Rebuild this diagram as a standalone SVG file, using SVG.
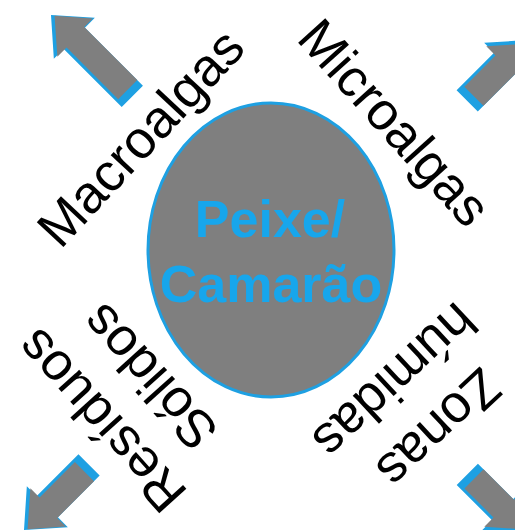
<svg xmlns="http://www.w3.org/2000/svg" width="515" height="530" viewBox="0 0 515 530">
  <style>
    .edge { fill: #1ea0e2; }
    .face { fill: #7f7f7f; }
    .lbl { font-family: "Liberation Sans", Arial, sans-serif; font-size: 53px; fill: #000; text-anchor: middle; }
    .core { font-family: "Liberation Sans", Arial, sans-serif; font-size: 52px; font-weight: bold; fill: #17a6ec; text-anchor: middle; }
  </style>

  <rect width="515" height="530" fill="#fff"/>

  <!-- outward block arrows, blue edge underneath a grey face -->
  <g id="connectors">
    <g id="arrow-nw" transform="translate(51,15) rotate(-45)">
      <polygon class="edge" points="0,0 29,33 15,33 15,115 -15,115 -15,33 -29,33"/>
      <polygon class="face" points="2,3 27,32 15,32 15,107 -12,107 -12,34 -25,34"/>
    </g>
    <g id="arrow-ne" transform="translate(528,40) rotate(45)">
      <polygon class="edge" points="0,0 29,33 15,33 15,86 -15,86 -15,33 -29,33"/>
      <polygon class="face" points="2,3 27,32 15,32 15,78 -12,78 -12,34 -25,34"/>
    </g>
    <g id="arrow-sw" transform="translate(24,530) rotate(225) scale(-1,1)">
      <polygon class="edge" points="0,0 29,33 15,33 15,92 -15,92 -15,33 -29,33"/>
      <polygon class="face" points="2,3 27,32 15,32 15,84 -12,84 -12,34 -25,34"/>
    </g>
    <g id="arrow-se" transform="translate(526,533) rotate(135) scale(-1,1)">
      <polygon class="edge" points="0,0 29,33 15,33 15,83 -15,83 -15,33 -29,33"/>
      <polygon class="face" points="2,3 27,32 15,32 15,75 -12,75 -12,34 -25,34"/>
    </g>
  </g>

  <!-- central organism -->
  <g id="peixe-camarao">
    <ellipse cx="271" cy="250" rx="123" ry="147" fill="#7f7f7f" stroke="#1ea0e2" stroke-width="3"/>
    <text class="core" x="270" y="237">Peixe/</text>
    <text class="core" x="271" y="302">Camarão</text>
  </g>

  <g id="macroalgas" transform="translate(140,137) rotate(-47)">
    <text class="lbl" x="0" y="19">Macroalgas</text>
  </g>

  <g id="microalgas" transform="translate(395,122) rotate(48)">
    <text class="lbl" x="0" y="19">Microalgas</text>
  </g>

  <g id="residuos-solidos" transform="translate(124,400) rotate(228)">
    <text class="lbl" x="0" y="-13">Resíduos</text>
    <text class="lbl" x="0" y="52">Sólidos</text>
  </g>

  <g id="zonas-humidas" transform="translate(418,406) rotate(137)">
    <text class="lbl" x="0" y="-13">Zonas</text>
    <text class="lbl" x="0" y="52">húmidas</text>
  </g>
</svg>
